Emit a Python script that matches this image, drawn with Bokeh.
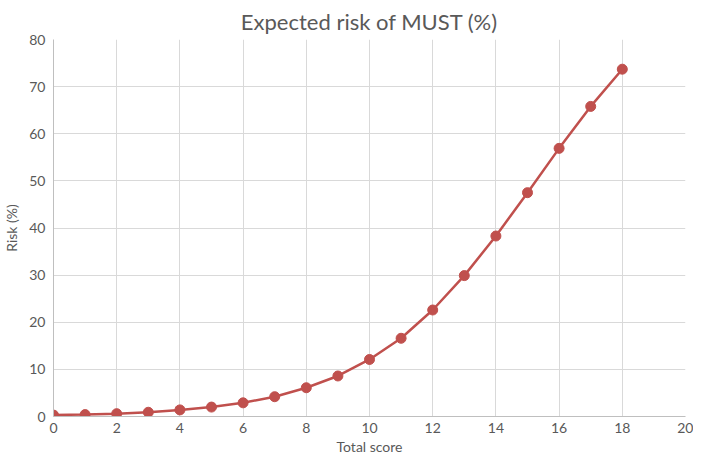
from bokeh.plotting import figure
from bokeh.models import Range1d, FixedTicker, ColumnDataSource
from bokeh.embed import file_html
from bokeh.resources import INLINE

score = [0, 1, 2, 3, 4, 5, 6, 7, 8, 9, 10, 11, 12, 13, 14, 15, 16, 17, 18]
risk = [0.3, 0.4, 0.6, 0.9, 1.4, 2.0, 2.9, 4.2, 6.1, 8.6, 12.1, 16.6, 22.6,
        29.9, 38.3, 47.5, 56.9, 65.8, 73.7]
x_ticks = [0, 2, 4, 6, 8, 10, 12, 14, 16, 18, 20]
y_ticks = [0, 10, 20, 30, 40, 50, 60, 70, 80]

src = ColumnDataSource(dict(x=score, y=risk))

FONT = "Lato"
GRAY = "#595959"

p = figure(width=693, height=457, output_backend="svg", toolbar_location=None,
           x_range=Range1d(0, 20), y_range=Range1d(0, 80),
           title="Expected risk of MUST (%)",
           min_border_left=43, min_border_right=8, min_border_top=38,
           min_border_bottom=0)
p.title.align = "center"
p.title.text_font = FONT
p.title.text_font_size = "22px"
p.title.text_font_style = "normal"
p.title.text_color = GRAY
p.title.offset = 0
p.outline_line_color = None

p.xaxis.ticker = FixedTicker(ticks=x_ticks)
p.yaxis.ticker = FixedTicker(ticks=y_ticks)
for ax in (p.xaxis, p.yaxis):
    ax.major_tick_line_color = None
    ax.minor_tick_line_color = None
    ax.major_tick_in = 0
    ax.major_tick_out = 0
    ax.axis_line_color = "#BFBFBF"
    ax.major_label_text_font = FONT
    ax.major_label_text_font_size = "14px"
    ax.major_label_text_color = GRAY
    ax.axis_label_text_font = FONT
    ax.axis_label_text_font_size = "14px"
    ax.axis_label_text_font_style = "normal"
    ax.axis_label_text_color = GRAY
p.xaxis.axis_label = "Total score"
p.yaxis.axis_label = "Risk (%)"
p.xaxis.major_label_standoff = 6
p.yaxis.major_label_standoff = 8
p.xaxis.axis_label_standoff = 2
p.yaxis.axis_label_standoff = 6

p.xgrid.grid_line_color = "#D9D9D9"
p.ygrid.grid_line_color = "#D9D9D9"
p.xgrid.grid_line_width = 1
p.ygrid.grid_line_width = 1

p.line("x", "y", source=src, line_color="#C0504D", line_width=2.5)
p.scatter("x", "y", source=src, size=10, fill_color="#C0504D", line_color="#C0504D")

open("out.html", "w").write(file_html(p, INLINE))
